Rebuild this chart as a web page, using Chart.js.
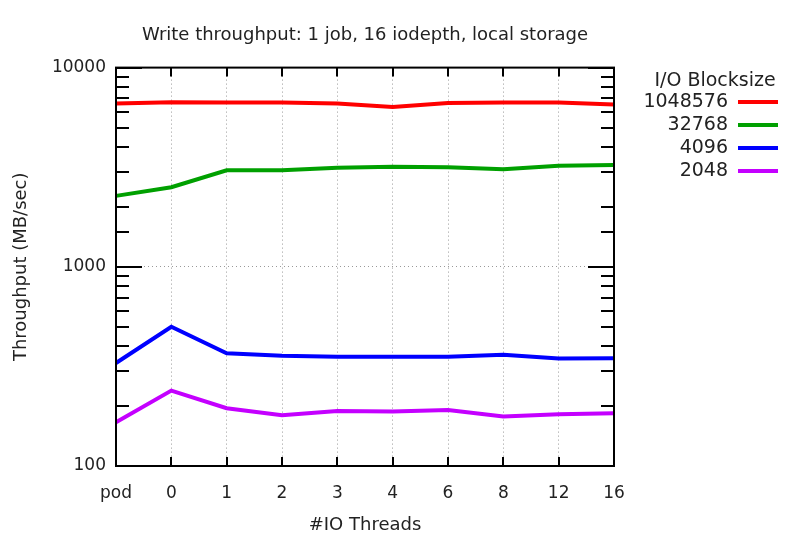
<!DOCTYPE html>
<html>
<head>
<meta charset="utf-8">
<script src="https://cdn.jsdelivr.net/npm/chart.js@4/dist/chart.umd.min.js"></script>
<style>
  html, body { margin: 0; padding: 0; background: #fff; }
  #wrap { width: 800px; height: 540px; }
</style>
</head>
<body>
<div id="wrap"><canvas id="throughputChart" width="800" height="540"></canvas></div>
<script>
  // categories (number of IO threads) and series
  const threads = ['pod', '0', '1', '2', '3', '4', '6', '8', '12', '16'];
  const blocksizes = ['1048576', '32768', '4096', '2048'];
  const bs1048576 = [6600, 6700, 6680, 6680, 6600, 6350, 6650, 6680, 6680, 6520];
  const bs32768 = [2270, 2510, 3050, 3050, 3140, 3180, 3160, 3090, 3215, 3245];
  const bs4096 = [329, 500, 368, 358, 354, 354, 354, 362, 346, 347];
  const bs2048 = [166, 239, 195, 180, 189, 188, 191, 177, 182, 184];
  const lineColors = ['#ff0000', '#00a000', '#0000ff', '#c400ff'];
  const majorTicks = [100, 1000, 10000];

  const fontFamily = '"DejaVu Sans", sans-serif';
  const textColor = '#222';

  // gnuplot style frame + inward ticks on all four sides
  const frameTicks = {
    id: 'frameTicks',
    afterDraw(chart) {
      const ctx = chart.ctx;
      const area = chart.chartArea;
      const x = chart.scales.x;
      const y = chart.scales.y;
      ctx.save();
      ctx.strokeStyle = '#000';
      ctx.lineWidth = 2;
      y.ticks.forEach(t => {
        const py = Math.round(y.getPixelForValue(t.value));
        const len = majorTicks.includes(t.value) ? 26 : 13;
        ctx.beginPath();
        ctx.moveTo(area.left, py); ctx.lineTo(area.left + len, py);
        ctx.moveTo(area.right, py); ctx.lineTo(area.right - len, py);
        ctx.stroke();
      });
      threads.forEach((c, i) => {
        const px = Math.round(x.getPixelForValue(i));
        ctx.beginPath();
        ctx.moveTo(px, area.bottom); ctx.lineTo(px, area.bottom - 9);
        ctx.moveTo(px, area.top); ctx.lineTo(px, area.top + 9);
        ctx.stroke();
      });
      ctx.strokeRect(area.left, area.top, area.right - area.left, area.bottom - area.top);
      ctx.restore();
    }
  };

  // legend on the right: title, then right aligned label + line sample
  const sideLegend = {
    id: 'sideLegend',
    afterDraw(chart) {
      const ctx = chart.ctx;
      ctx.save();
      ctx.font = '19px ' + fontFamily;
      ctx.fillStyle = textColor;
      ctx.textBaseline = 'middle';
      ctx.textAlign = 'center';
      ctx.fillText('I/O Blocksize', 715, 81);
      ctx.textAlign = 'right';
      chart.data.datasets.forEach((ds, i) => {
        const ly = 102 + i * 23;
        ctx.fillText(ds.label, 728, ly);
        ctx.strokeStyle = ds.borderColor;
        ctx.lineWidth = 4;
        ctx.beginPath();
        ctx.moveTo(738, ly); ctx.lineTo(778, ly);
        ctx.stroke();
      });
      ctx.restore();
    }
  };

  const seriesValues = [bs1048576, bs32768, bs4096, bs2048];
  const datasets = blocksizes.map((b, i) => ({
    label: b,
    data: seriesValues[i],
    borderColor: lineColors[i],
    backgroundColor: lineColors[i],
    borderWidth: 4,
    pointRadius: 0,
    tension: 0,
    fill: false
  }));

  const chart = new Chart(document.getElementById('throughputChart').getContext('2d'), {
    type: 'line',
    data: { labels: threads, datasets: datasets },
    plugins: [frameTicks, sideLegend],
    options: {
      responsive: false,
      animation: false,
      layout: { padding: { left: 0, right: 186, top: 6, bottom: 0 } },
      plugins: {
        legend: { display: false },
        tooltip: { enabled: false },
        title: {
          display: true,
          text: 'Write throughput: 1 job, 16 iodepth, local storage',
          color: textColor,
          font: { family: fontFamily, size: 18, weight: 'normal' },
          padding: { top: 19, bottom: 21 },
          fullSize: false
        }
      },
      scales: {
        x: {
          type: 'category',
          offset: false,
          afterFit(scale) { scale.height = 74; },
          grid: {
            display: true,
            drawTicks: false,
            color: '#999',
            lineWidth: 1
          },
          border: { display: false, dash: [1, 3] },
          ticks: {
            color: textColor,
            font: { family: fontFamily, size: 17 },
            padding: 17,
            maxRotation: 0,
            autoSkip: false
          },
          title: {
            display: true,
            text: '#IO Threads',
            color: textColor,
            font: { family: fontFamily, size: 18 },
            padding: { top: 8 }
          }
        },
        y: {
          type: 'logarithmic',
          min: 100,
          max: 10000,
          afterFit(scale) { scale.width = 116; },
          grid: {
            drawTicks: false,
            color: ctx => (ctx.tick && ctx.tick.value === 1000) ? '#999' : 'rgba(0,0,0,0)',
            lineWidth: 1
          },
          border: { display: false, dash: [1, 3] },
          ticks: {
            color: textColor,
            font: { family: fontFamily, size: 17 },
            padding: 10,
            autoSkip: false,
            callback: v => majorTicks.includes(v) ? String(v) : ''
          },
          title: {
            display: true,
            text: 'Throughput (MB/sec)',
            color: textColor,
            font: { family: fontFamily, size: 18 },
            padding: { top: 11, bottom: 0 }
          }
        }
      }
    }
  });
</script>
</body>
</html>
